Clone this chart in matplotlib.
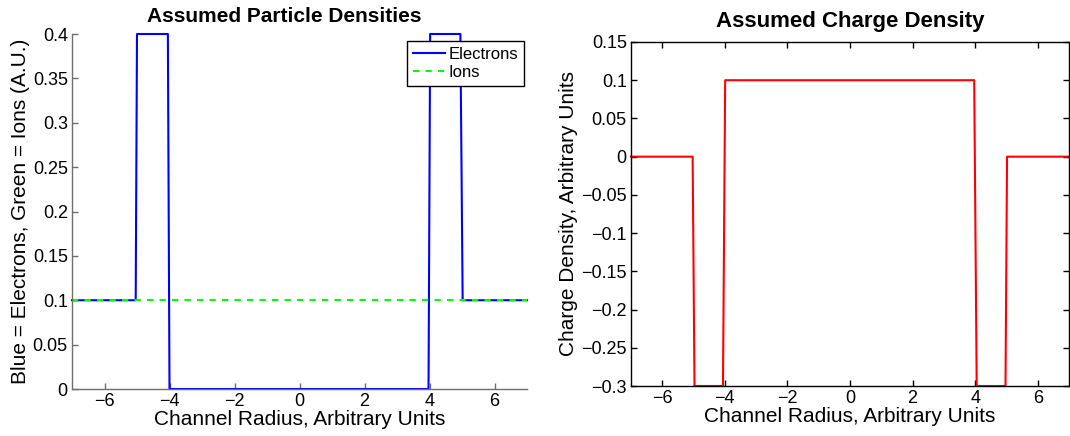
import matplotlib

matplotlib.use("Agg")

import matplotlib.pyplot as plt
from matplotlib.ticker import FuncFormatter

# electron density (sampled, so the steps lean a little)
r_elec = [-7.0, -5.04, -5.0, -4.05, -4.0, 3.97, 4.02, 4.95, 5.02, 7.0]
n_elec = [0.1, 0.1, 0.4, 0.4, 0.0, 0.0, 0.4, 0.4, 0.1, 0.1]

# ion density is flat
r_ion = [-7.0, 7.0]
n_ion = [0.1, 0.1]

# charge density = ions - electrons
r_chg = [-7.0, -5.03, -4.97, -4.06, -3.99, 3.97, 4.05, 4.97, 5.02, 7.0]
q_chg = [0.0, 0.0, -0.3, -0.3, 0.1, 0.1, -0.3, -0.3, 0.0, 0.0]

xticks = [-6, -4, -2, 0, 2, 4, 6]
yticks_left = [0, 0.05, 0.1, 0.15, 0.2, 0.25, 0.3, 0.35, 0.4]
yticks_right = [-0.3, -0.25, -0.2, -0.15, -0.1, -0.05, 0, 0.05, 0.1, 0.15]

plt.rcParams["font.family"] = ["Liberation Sans", "DejaVu Sans"]
plt.rcParams["axes.unicode_minus"] = True


# matlab style tick labels: 0, 0.05, 0.1 ... with a real minus sign
def matlab_fmt(v, pos):
    s = "%g" % round(v, 4)
    return s.replace("-", "\u2212")


W, H = 1070, 436
fig = plt.figure(figsize=(W / 100.0, H / 100.0), dpi=100)

#
# left panel: particle densities
#
ax1 = fig.add_axes([72 / W, 1 - 389 / H, 455 / W, 355 / H])
ax1.plot(r_elec, n_elec, color=(0, 0, 1), lw=1.5, label="Electrons", clip_on=False)
ax1.plot(r_ion, n_ion, color=(0, 1, 0), lw=1.5, ls=(0, (3, 3)), label="Ions")
ax1.set_xlim(-7, 7)
ax1.set_ylim(0, 0.4)
ax1.set_xticks(xticks)
ax1.set_yticks(yticks_left)
ax1.xaxis.set_major_formatter(FuncFormatter(matlab_fmt))
ax1.yaxis.set_major_formatter(FuncFormatter(matlab_fmt))
for side in ["top", "right"]:
    ax1.spines[side].set_visible(False)
for side in ["left", "bottom"]:
    ax1.spines[side].set_color("#6e6e6e")
    ax1.spines[side].set_linewidth(1.0)
ax1.tick_params(direction="in", length=4, width=1.0, color="#6e6e6e",
                labelsize=13, pad=3)
ax1.set_title("Assumed Particle Densities", fontsize=15, fontweight="bold",
              pad=8.6, x=0.466)
ax1.set_xlabel("Channel Radius, Arbitrary Units", fontsize=15, labelpad=0)
ax1.set_ylabel("Blue = Electrons, Green = Ions (A.U.)", fontsize=15, labelpad=2)
leg = ax1.legend(loc="upper left", bbox_to_anchor=(407 / W, 1 - 41 / H),
                 bbox_transform=fig.transFigure, fontsize=12, frameon=True,
                 fancybox=False, edgecolor="black", framealpha=1,
                 handlelength=1.9, handletextpad=0.25, borderpad=0.35,
                 labelspacing=0.2, borderaxespad=0)
leg.get_frame().set_linewidth(1.0)

#
# right panel: charge density
#
ax2 = fig.add_axes([631 / W, 1 - 386 / H, 438 / W, 344 / H])
ax2.plot(r_chg, q_chg, color=(1, 0, 0), lw=1.5, clip_on=False)
ax2.set_xlim(-7, 7)
ax2.set_ylim(-0.3, 0.15)
ax2.set_xticks(xticks)
ax2.set_yticks(yticks_right)
ax2.xaxis.set_major_formatter(FuncFormatter(matlab_fmt))
ax2.yaxis.set_major_formatter(FuncFormatter(matlab_fmt))
for s in ax2.spines.values():
    s.set_linewidth(1.0)
ax2.tick_params(direction="in", length=4, width=1.0, labelsize=13, pad=3,
                top=True, right=True)
ax2.set_title("Assumed Charge Density", fontsize=16, fontweight="bold", pad=10.8)
ax2.set_xlabel("Channel Radius, Arbitrary Units", fontsize=15, labelpad=0)
ax2.set_ylabel("Charge Density, Arbitrary Units", fontsize=15, labelpad=2)

fig.savefig("out.png", dpi=100)
